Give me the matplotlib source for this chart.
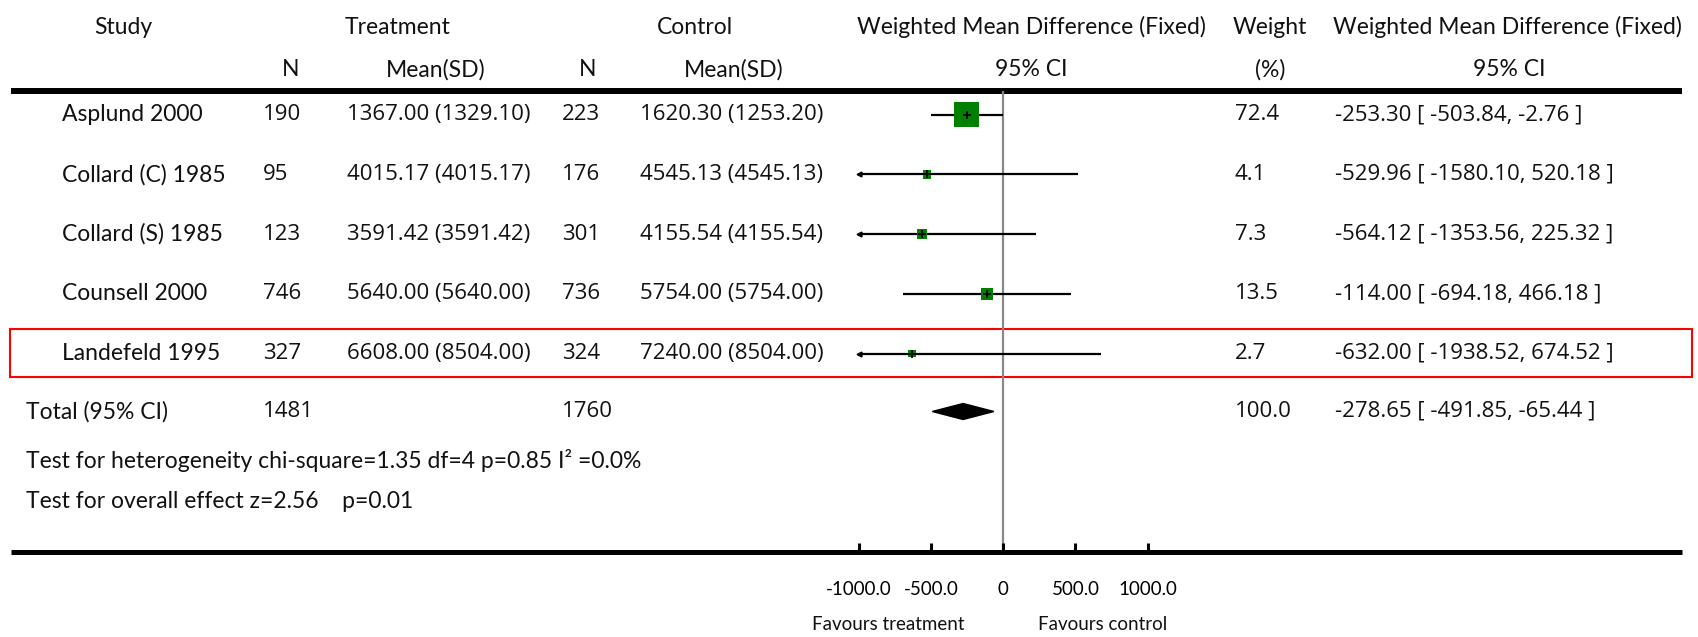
import matplotlib
matplotlib.use("Agg")
import matplotlib.pyplot as plt
import numpy as np

# ---------------- data ----------------
studies = ['Asplund 2000', 'Collard (C) 1985', 'Collard (S) 1985', 'Counsell 2000', 'Landefeld 1995']
n_treat = [190, 95, 123, 746, 327]
mean_treat = [1367.00, 4015.17, 3591.42, 5640.00, 6608.00]
sd_treat = [1329.10, 4015.17, 3591.42, 5640.00, 8504.00]
n_ctrl = [223, 176, 301, 736, 324]
mean_ctrl = [1620.30, 4545.13, 4155.54, 5754.00, 7240.00]
sd_ctrl = [1253.20, 4545.13, 4155.54, 5754.00, 8504.00]
weights = [72.4, 4.1, 7.3, 13.5, 2.7]
wmd = [-253.30, -529.96, -564.12, -114.00, -632.00]
ci_low = [-503.84, -1580.10, -1353.56, -694.18, -1938.52]
ci_high = [-2.76, 520.18, 225.32, 466.18, 674.52]

total_n_treat = 1481
total_n_ctrl = 1760
total_weight = 100.0
total_wmd = -278.65
total_low = -491.85
total_high = -65.44

het_text = "Test for heterogeneity chi-square=1.35 df=4 p=0.85 I² =0.0%"
overall_text = "Test for overall effect z=2.56    p=0.01"

xticks = [-1000, -500, 0, 500, 1000]
xtick_labels = ['-1000.0', '-500.0', '0', '500.0', '1000.0']
xlim = (-1000, 1000)
highlight_study = 'Landefeld 1995'

# ---------------- layout ----------------
W, H = 1698, 637
plt.rcParams['font.family'] = ['Lato', 'DejaVu Sans']
WORD_FONT = ['Lato', 'DejaVu Sans']
NUM_FONT = ['Open Sans', 'DejaVu Sans']
FS = 16.5
FS_NUM = 16
FS_SMALL = 13.5

fig = plt.figure(figsize=(W / 100, H / 100), dpi=100)
lay = fig.add_axes([0, 0, 1, 1])
lay.set_xlim(0, W)
lay.set_ylim(H, 0)
lay.axis('off')

y_h1, y_h2 = 27, 70
row0, row_step = 114.7, 59.7
row_y = [row0 + row_step * i for i in range(len(studies))]
y_total = 411.5
y_het, y_overall = 460, 501
top_line, bot_line = 91, 552
px_left, px_right = 859, 1147.6

col = dict(study=62, total=26, nt=263, mt=347, nc=562, mc=640, wt=1235, ci=1335)

def t(x, y, s, ha='left', fs=FS, fam=WORD_FONT):
    lay.text(x, y, s, ha=ha, va='center', fontsize=fs, color='#111111', family=fam)

def tn(x, y, s, ha='left'):
    t(x, y, s, ha, FS_NUM, NUM_FONT)

# headers
t(123, y_h1, 'Study', 'center')
t(398, y_h1, 'Treatment', 'center')
t(695, y_h1, 'Control', 'center')
t(1031, y_h1, 'Weighted Mean Difference (Fixed)', 'center')
t(1270, y_h1, 'Weight', 'center')
t(1507, y_h1, 'Weighted Mean Difference (Fixed)', 'center')
t(291, y_h2, 'N', 'center')
t(436, y_h2, 'Mean(SD)', 'center')
t(588, y_h2, 'N', 'center')
t(734, y_h2, 'Mean(SD)', 'center')
t(1031, y_h2, '95% CI', 'center')
t(1270, y_h2, '(%)', 'center')
t(1509, y_h2, '95% CI', 'center')

# rows
for i, s in enumerate(studies):
    y = row_y[i]
    t(col['study'], y, s)
    tn(col['nt'], y, f"{n_treat[i]}")
    tn(col['mt'], y, f"{mean_treat[i]:.2f} ({sd_treat[i]:.2f})")
    tn(col['nc'], y, f"{n_ctrl[i]}")
    tn(col['mc'], y, f"{mean_ctrl[i]:.2f} ({sd_ctrl[i]:.2f})")
    tn(col['wt'], y, f"{weights[i]:.1f}")
    tn(col['ci'], y, f"{wmd[i]:.2f} [ {ci_low[i]:.2f}, {ci_high[i]:.2f} ]")

t(col['total'], y_total, 'Total (95% CI)')
tn(col['nt'], y_total, f"{total_n_treat}")
tn(col['nc'], y_total, f"{total_n_ctrl}")
tn(col['wt'], y_total, f"{total_weight:.1f}")
tn(col['ci'], y_total, f"{total_wmd:.2f} [ {total_low:.2f}, {total_high:.2f} ]")
t(col['total'], y_het, het_text)
t(col['total'], y_overall, overall_text)

# rules
lay.plot([11, 1682], [top_line, top_line], color='black', lw=4.3, solid_capstyle='butt')
lay.plot([11, 1682], [bot_line, bot_line], color='black', lw=3.6, solid_capstyle='butt')

# highlight box
hi_i = studies.index(highlight_study)
lay.add_patch(plt.Rectangle((10, row_y[hi_i] - 25), 1682, 48, fill=False,
                            edgecolor='red', lw=1.5))

# favours labels
t(888, 625, 'Favours treatment', 'center', FS_SMALL)
t(1103, 625, 'Favours control', 'center', FS_SMALL)

# ---------------- forest axis ----------------
ax = fig.add_axes([px_left / W, (H - bot_line) / H, (px_right - px_left) / W, (bot_line - top_line) / H])
ax.set_xlim(*xlim)
ax.set_ylim(bot_line, top_line)
ax.patch.set_alpha(0)
for sp in ax.spines.values():
    sp.set_visible(False)
ax.set_yticks([])
ax.set_xticks(xticks)
ax.set_xticklabels(xtick_labels, fontsize=FS_SMALL, family=WORD_FONT)
ax.tick_params(axis='x', direction='in', length=6.5, width=2.2, pad=21, colors='black')

ax.axvline(0, color='#888888', lw=1.6, zorder=1)

lo_c = np.clip(ci_low, *xlim)
hi_c = np.clip(ci_high, *xlim)
ax.hlines(row_y, lo_c, hi_c, color='black', lw=1.6, zorder=2)
for i in range(len(studies)):
    if ci_low[i] < xlim[0]:
        ax.plot(xlim[0], row_y[i], marker='<', color='black', ms=3.5, clip_on=False, zorder=3)
    if ci_high[i] > xlim[1]:
        ax.plot(xlim[1], row_y[i], marker='>', color='black', ms=3.5, clip_on=False, zorder=3)

side_px = 3 + 2.6 * np.sqrt(np.array(weights))
ax.scatter(wmd, row_y, marker='s', s=(side_px * 0.72) ** 2, color='#008000',
           edgecolors='none', zorder=4)
ax.scatter(wmd, row_y, marker='+', s=30, color='black', linewidths=1.3, zorder=5)

dh = 8
ax.fill([total_low, total_wmd, total_high, total_wmd],
        [y_total, y_total - dh, y_total, y_total + dh], color='black', zorder=4)

fig.savefig('out.png', dpi=100)
